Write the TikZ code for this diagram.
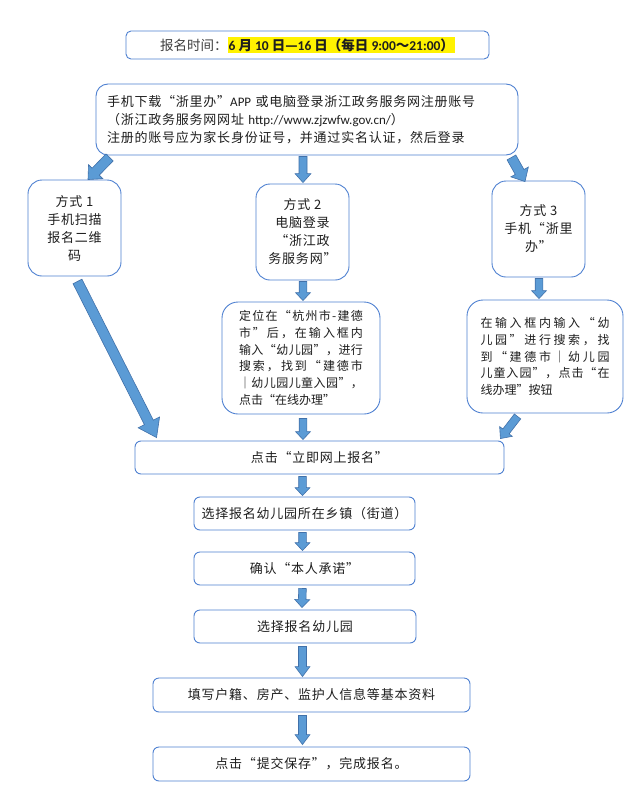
\documentclass[tikz,border=0pt]{standalone}
\usepackage{fontspec}
\setmainfont{Noto Sans CJK SC}
\newfontfamily\latfont{Carlito}
\usetikzlibrary{calc}
\definecolor{boxblue}{RGB}{79,129,209}
\definecolor{arrfill}{RGB}{91,155,213}
\definecolor{arrline}{RGB}{65,113,170}
\definecolor{txt}{RGB}{30,30,30}
\definecolor{graytxt}{RGB}{64,64,64}
\newcommand\lat[1]{{\latfont #1}}
\newcommand\jspread[2]{\makebox[#1][s]{\jsfirst#2\relax}}
\def\jsfirst#1{#1\jsrest}
\def\jsrest#1{\ifx#1\relax\else\hfil#1\expandafter\jsrest\fi}
\newcommand\blockarrow[5]{%
  \coordinate (ba-h) at ($(#2)!#5!(#1)$);
  \filldraw[arrowstyle] ($(#1)!#3!90:(#2)$) -- ($(ba-h)!#3!-90:(#1)$) -- ($(ba-h)!#4!-90:(#1)$) -- (#2) -- ($(ba-h)!#4!90:(#1)$) -- ($(ba-h)!#3!90:(#1)$) -- ($(#1)!#3!-90:(#2)$) -- cycle;}
\tikzset{
  box/.style={draw=boxblue, line width=0.9pt, fill=white, text=txt, align=center, inner sep=0pt,
    font=\fontsize{13pt}{18pt}\selectfont},
  spaced/.style={font=\fontsize{13pt}{18pt}\selectfont\addfontfeature{LetterSpace=6}},
  stepbox/.style={box, spaced, rounded corners=6pt, minimum height=33pt},
  waybox/.style={box, spaced, rounded corners=14pt, minimum width=93pt, minimum height=96pt},
  detailbox/.style={box, rounded corners=16pt, align=left, font=\fontsize{12pt}{16.8pt}\selectfont},
  arrowstyle/.style={fill=arrfill, draw=arrline, line width=0.6pt, line join=miter},
}
\begin{document}
\begin{tikzpicture}[x=1pt,y=-1pt]
\useasboundingbox (0,0) rectangle (632,798);
\fill[white] (0,0) rectangle (632,798);
\setlength{\fboxsep}{1pt}
% top
\node[box, rounded corners=5pt, minimum width=363pt, minimum height=28pt, font=\fontsize{13.5pt}{18pt}\selectfont] (top) at (307.5,45)
  {{\color{graytxt}报名时间：}\colorbox{yellow}{\bfseries\lat{\bfseries 6} 月 \lat{\bfseries 10} 日—\lat{\bfseries 16} 日（每日 \lat{\bfseries 9:00}～\lat{\bfseries 21:00}）}};
% box2
\node[box, rounded corners=12pt, minimum width=422pt, minimum height=71pt, text width=400pt, inner xsep=11pt, align=left, spaced] (box2) at (307,119.5)
  {手机下载“浙里办”\lat{APP} 或电脑登录浙江政务服务网注册账号\\（浙江政务服务网网址 \lat{http://www.zjzwfw.gov.cn/}）\\注册的账号应为家长身份证号，并通过实名认证，然后登录};
% ways
\node[waybox] (m1) at (74.5,228) {方式 1\\手机扫描\\报名二维\\码};
\node[waybox] (m2) at (302.5,232) {方式 2\\电脑登录\\“浙江政\\务服务网”};
\node[waybox] (m3) at (538.5,229) {方式 3\\手机“浙里\\办”};
% details
\node[detailbox, minimum width=158pt, minimum height=112pt, text width=124pt, inner xsep=17pt] (boxA) at (301,358)
  {\jspread{124pt}{定位在“杭州市-建德}\\\jspread{124pt}{市”后，在输入框内}\\\jspread{124pt}{输入“幼儿园”，进行}\\\jspread{124pt}{搜索，找到“建德市}\\\jspread{124pt}{｜幼儿园儿童入园”，}\\点击“在线办理”};
\node[detailbox, minimum width=156pt, minimum height=113pt, text width=129pt, inner xsep=13.5pt] (boxB) at (545,356.5)
  {\jspread{129pt}{在输入框内输入“幼}\\\jspread{129pt}{儿园”进行搜索，找}\\\jspread{129pt}{到“建德市｜幼儿园}\\\jspread{129pt}{儿童入园”，点击“在}\\线办理”按钮};
% steps
\node[stepbox, minimum width=369pt] (s1) at (319.5,457.5) {点击“立即网上报名”};
\node[stepbox, minimum width=221pt] (s2) at (304.5,513.5) {选择报名幼儿园所在乡镇（街道）};
\node[stepbox, minimum width=221pt] (s3) at (304.5,568.5) {确认“本人承诺”};
\node[stepbox, minimum width=222pt] (s4) at (305,626.5) {选择报名幼儿园};
\node[stepbox, minimum width=317pt, minimum height=34pt] (s5) at (311.5,695) {填写户籍、房产、监护人信息等基本资料};
\node[stepbox, minimum width=317pt, minimum height=34pt] (s6) at (311.5,764) {点击“提交保存”，完成报名。};
% arrow end points
\coordinate (a1s) at ($(box2.south west)+(14,2)$);
\coordinate (a1e) at ($(m1.north)+(13.5,0)$);
\coordinate (a2s) at ($(box2.south -| m2.north)+(0.5,1)$);
\coordinate (a2e) at ($(m2.north)+(0.5,-1)$);
\coordinate (a3s) at ($(box2.south east)+(-7,2)$);
\coordinate (a3e) at ($(m3.north)+(-13.5,1)$);
\coordinate (a4s) at ($(m2.south)+(0.5,1)$);
\coordinate (a4e) at ($(boxA.north -| m2.south)+(0.5,-1)$);
\coordinate (a5s) at ($(m3.south)+(0.5,1)$);
\coordinate (a5e) at ($(boxB.north -| m3.south)+(0.5,-1)$);
\coordinate (a6s) at ($(m1.south)+(3,5)$);
\coordinate (a6e) at ($(s1.north west)+(22,-3)$);
\coordinate (a7s) at ($(boxA.south)+(2,4)$);
\coordinate (a7e) at ($(s1.north -| boxA.south)+(2,-1)$);
\coordinate (a8s) at ($(boxB.south west)+(51,3)$);
\coordinate (a8e) at ($(s1.north east)+(-4,-2)$);
\coordinate (a9s) at ($(s1.south -| s2.north)+(-2,2)$);
\coordinate (a9e) at ($(s2.north)+(-2,-1)$);
\coordinate (a10s) at ($(s2.south)+(-2,2)$);
\coordinate (a10e) at ($(s3.north)+(-2,-1)$);
\coordinate (a11s) at ($(s3.south)+(-2,3)$);
\coordinate (a11e) at ($(s4.north)+(-3,-2)$);
\coordinate (a12s) at ($(s4.south -| s3.south)+(-2,3)$);
\coordinate (a12e) at ($(s5.north -| s3.south)+(-2,-1)$);
\coordinate (a13s) at ($(s5.south -| s3.south)+(-2,3)$);
\coordinate (a13e) at ($(s6.north -| s3.south)+(-2,-2)$);
% arrows
\blockarrow{a1s}{a1e}{5pt}{10pt}{11pt}
\blockarrow{a2s}{a2e}{4pt}{8pt}{9pt}
\blockarrow{a3s}{a3e}{5pt}{10pt}{11pt}
\blockarrow{a4s}{a4e}{3.8pt}{7.5pt}{8pt}
\blockarrow{a5s}{a5e}{3.8pt}{7.5pt}{8pt}
\blockarrow{a6s}{a6e}{5pt}{12pt}{17pt}
\blockarrow{a7s}{a7e}{3.8pt}{7.5pt}{8pt}
\blockarrow{a8s}{a8e}{4pt}{8pt}{9pt}
\blockarrow{a9s}{a9e}{3.8pt}{7.5pt}{8pt}
\blockarrow{a10s}{a10e}{3.8pt}{7.5pt}{8pt}
\blockarrow{a11s}{a11e}{3.8pt}{7.5pt}{8pt}
\blockarrow{a12s}{a12e}{4pt}{7.5pt}{10pt}
\blockarrow{a13s}{a13e}{4pt}{7.5pt}{10pt}
\end{tikzpicture}
\end{document}
